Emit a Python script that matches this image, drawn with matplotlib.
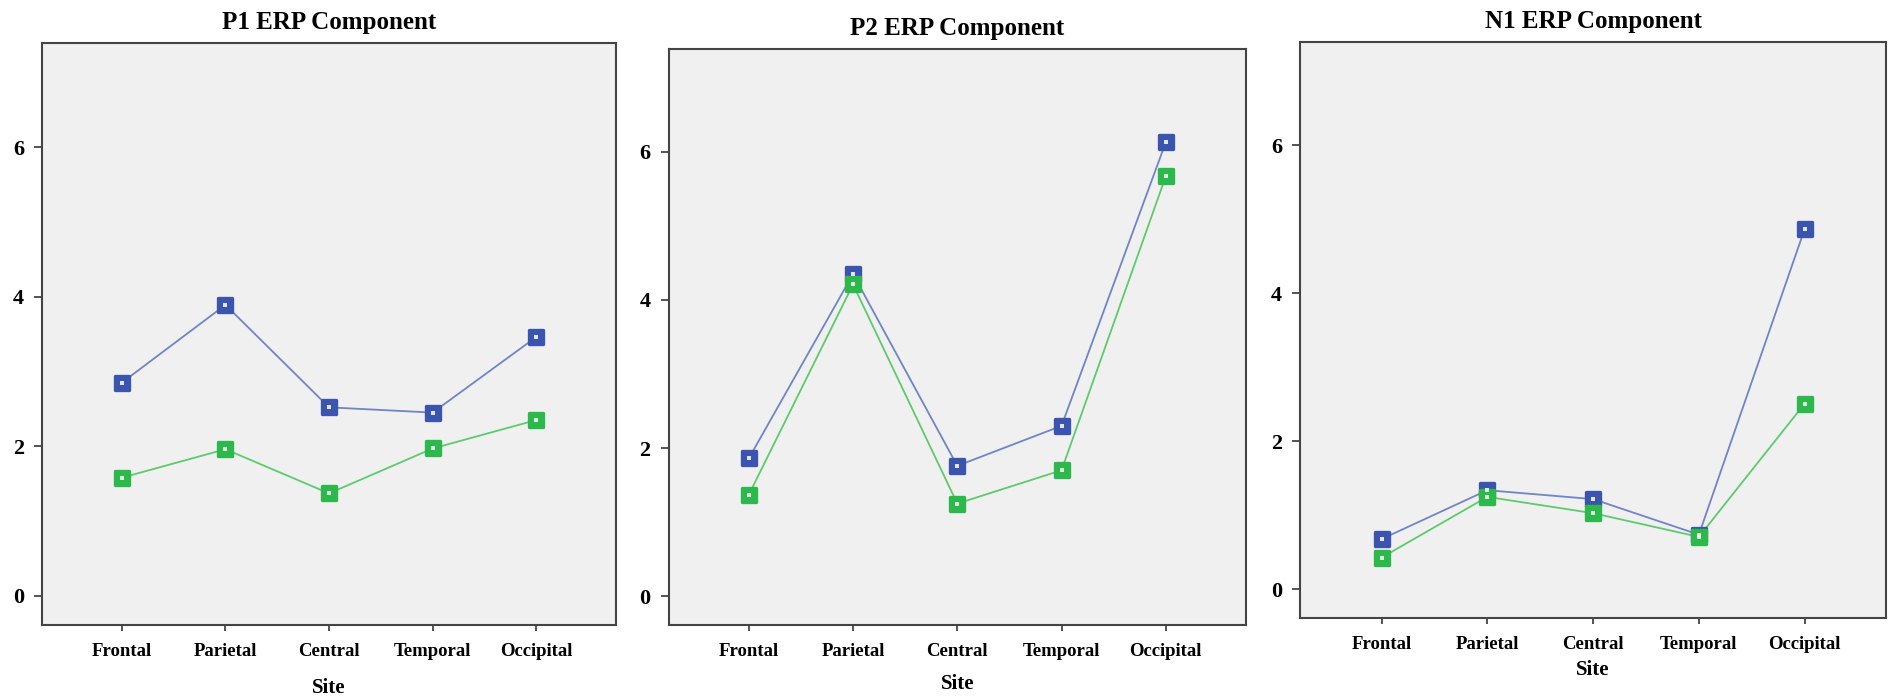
import matplotlib
matplotlib.use("Agg")
import matplotlib.pyplot as plt
from matplotlib.markers import MarkerStyle

# recording sites along the x axis
sites = ["Frontal", "Parietal", "Central", "Temporal", "Occipital"]
y_ticks = [0, 2, 4, 6]

# mean amplitudes per component, two groups each
p1_group1 = [2.85, 3.89, 2.52, 2.45, 3.46]
p1_group2 = [1.58, 1.96, 1.37, 1.97, 2.35]

p2_group1 = [1.86, 4.35, 1.76, 2.30, 6.13]
p2_group2 = [1.37, 4.21, 1.25, 1.70, 5.67]

n1_group1 = [0.68, 1.34, 1.22, 0.74, 4.87]
n1_group2 = [0.43, 1.25, 1.03, 0.71, 2.51]

titles = ["P1 ERP Component", "P2 ERP Component", "N1 ERP Component"]
group1_sets = [p1_group1, p2_group1, n1_group1]
group2_sets = [p1_group2, p2_group2, n1_group2]

# axes rectangles in figure fractions
panel_rects = [
    [0.0222, 0.1071, 0.3027, 0.8314],
    [0.3526, 0.1071, 0.3046, 0.8229],
    [0.6857, 0.1167, 0.3091, 0.8229],
]
site_label_pads = [13, 10, 5]

BLUE_MARK = "#3b55ae"
BLUE_LINE = "#7084c8"
GREEN_MARK = "#2cb84a"
GREEN_LINE = "#5dcb6c"
FONT = "Liberation Serif"


def draw_series(ax, values, line_color, mark_color):
    xs = list(range(len(values)))
    ax.plot(xs, values, color=line_color, linewidth=1.3, zorder=2)
    ax.plot(xs, values, linestyle="none",
            marker=MarkerStyle("s", joinstyle="round"),
            markersize=9.5, markeredgewidth=2.4,
            markerfacecolor=mark_color, markeredgecolor=mark_color, zorder=3)
    # small light glyph inside each marker
    ax.plot(xs, values, linestyle="none", marker="s", markersize=2.2,
            markerfacecolor="white", markeredgewidth=0, alpha=0.85, zorder=4)


def main():
    plt.rcParams["font.family"] = [FONT, "DejaVu Serif"]
    fig = plt.figure(figsize=(18.96, 7.0), dpi=100)

    for i in range(3):
        ax = fig.add_axes(panel_rects[i])
        ax.set_facecolor("#f0f0f0")

        draw_series(ax, group1_sets[i], BLUE_LINE, BLUE_MARK)
        draw_series(ax, group2_sets[i], GREEN_LINE, GREEN_MARK)

        ax.set_xlim(-0.77, 4.77)
        ax.set_ylim(-0.39, 7.39)
        ax.set_xticks(range(len(sites)))
        ax.set_xticklabels(sites)
        ax.set_yticks(y_ticks)
        ax.set_yticklabels([str(t) for t in y_ticks])

        for spine in ax.spines.values():
            spine.set_color("#444444")
            spine.set_linewidth(1.5)

        ax.tick_params(axis="y", length=6, width=1.3, color="#444444",
                       pad=7, labelsize=16)
        ax.tick_params(axis="x", length=4, width=1.3, color="#444444",
                       pad=9, labelsize=13.5)
        for lbl in ax.get_xticklabels() + ax.get_yticklabels():
            lbl.set_fontweight("bold")

        ax.set_title(titles[i], fontsize=18, fontweight="bold", pad=10)
        ax.set_xlabel("Site", fontsize=15, fontweight="bold",
                      labelpad=site_label_pads[i])

    fig.savefig("out.png", dpi=100, facecolor="white")


if __name__ == "__main__":
    main()
